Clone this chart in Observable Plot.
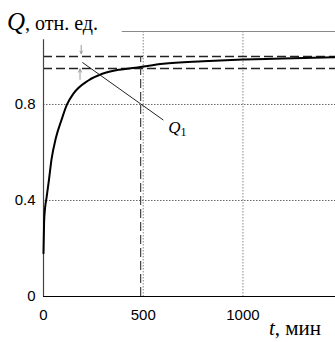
<!DOCTYPE html>
<html>
<head>
<meta charset="utf-8">
<script src="https://cdn.jsdelivr.net/npm/d3@7"></script>
<script src="https://cdn.jsdelivr.net/npm/@observablehq/plot@0.6"></script>
<style>
  html, body { margin: 0; padding: 0; background: #fff; }
  #chart { width: 335px; height: 342px; }
</style>
</head>
<body>
<div id="chart"></div>
<script>
// Curve readings (time, minutes -> Q, relative units)
const tValues = [0, 3, 8, 15, 28, 40, 62, 92, 118, 150, 225, 295, 380, 460, 600, 800, 1000, 1200, 1464];
const qValues = [0.18, 0.31, 0.37, 0.41, 0.49, 0.57, 0.66, 0.74, 0.80, 0.845, 0.90, 0.928, 0.945, 0.953, 0.970, 0.980, 0.987, 0.991, 0.997];
const xTicks = [0, 500, 1000];
const yTicks = [0, 0.4, 0.8];
const xGrid = [500, 1000];
const yGrid = [0.4, 0.8];
const refLevels = [1.0, 0.95];
const refTime = [487];
const arrowDown = [{x: 189, y1: 1.046, y2: 1.012}];
const arrowUp = [{x: 183, y1: 0.904, y2: 0.948}];
const leader = [{x1: 195, y1: 0.975, x2: 601, y2: 0.735}];
const labelQ1 = [{x: 628, y: 0.68}];

const points = tValues.map((t, i) => ({t, q: qValues[i]}));

const chart = Plot.plot({
  width: 335,
  height: 342,
  marginLeft: 43,
  marginRight: 0,
  marginTop: 31,
  marginBottom: 46,
  style: {fontFamily: "'Liberation Sans', Arial, sans-serif", fontSize: "15px", background: "#fff", color: "#000"},
  x: {domain: [0, 1464]},
  y: {domain: [0, 1.104]},
  marks: [
    Plot.ruleX(xGrid, {stroke: "#888", strokeWidth: 1, strokeDasharray: "1.5,1.5"}),
    Plot.ruleY(yGrid, {stroke: "#666", strokeWidth: 1, strokeDasharray: "1.5,1.5"}),
    Plot.ruleY(refLevels, {stroke: "#222", strokeWidth: 1.4, strokeDasharray: "9,4"}),
    Plot.ruleX(refTime, {y1: 0, y2: 1.0, stroke: "#444", strokeWidth: 1.2, strokeDasharray: "9,4"}),
    Plot.ruleY([0], {stroke: "#000", strokeWidth: 1.2}),
    Plot.ruleX([0], {y1: 0, y2: 1.07, stroke: "#444", strokeWidth: 1.2}),
    Plot.ruleY([1.104], {x1: 395, x2: 1464, stroke: "#888", strokeWidth: 1.2}),
    Plot.line(points, {x: "t", y: "q", stroke: "#000", strokeWidth: 2, curve: "monotone-x"}),
    Plot.link(leader, {x1: "x1", y1: "y1", x2: "x2", y2: "y2", stroke: "#222", strokeWidth: 1}),
    Plot.arrow(arrowDown, {x: "x", y1: "y1", y2: "y2", stroke: "#999", strokeWidth: 1, headLength: 6, headAngle: 50}),
    Plot.arrow(arrowUp, {x: "x", y1: "y1", y2: "y2", stroke: "#999", strokeWidth: 1, headLength: 6, headAngle: 50}),
    Plot.axisX(xTicks, {tickSize: 0, tickPadding: 13, fontSize: 15, label: null, tickFormat: d => String(d)}),
    Plot.axisY(yTicks, {tickSize: 0, tickPadding: 8, fontSize: 15, label: null, tickFormat: d => d === 0 ? "0" : d3.format(".1f")(d)})
  ]
});

const svg = d3.select(chart);
const serif = "'Liberation Serif', 'Times New Roman', serif";
// Title
const title = svg.append("text")
  .attr("x", 7).attr("y", 30)
  .attr("text-anchor", "start")
  .attr("font-family", serif)
  .attr("fill", "#000");
title.append("tspan").attr("font-style", "italic").attr("font-size", 25).text("Q");
title.append("tspan").attr("font-size", 20).text(", отн. ед.");

// X axis label
const xl = svg.append("text")
  .attr("x", 321).attr("y", 335).attr("text-anchor", "end")
  .attr("font-family", serif)
  .attr("font-size", 21).attr("fill", "#000");
xl.append("tspan").attr("font-style", "italic").text("t");
xl.append("tspan").text(", мин");

document.getElementById("chart").appendChild(chart);

// Q1 label positioned via scales
const xs = chart.scale("x"), ys = chart.scale("y");
const ql = svg.append("text")
  .attr("x", xs.apply(labelQ1[0].x)).attr("y", ys.apply(labelQ1[0].y))
  .attr("text-anchor", "start")
  .attr("font-family", serif)
  .attr("fill", "#000");
ql.append("tspan").attr("font-style", "italic").attr("font-size", 17).text("Q");
ql.append("tspan").attr("font-size", 12).attr("dy", 3).text("1");
</script>
</body>
</html>
